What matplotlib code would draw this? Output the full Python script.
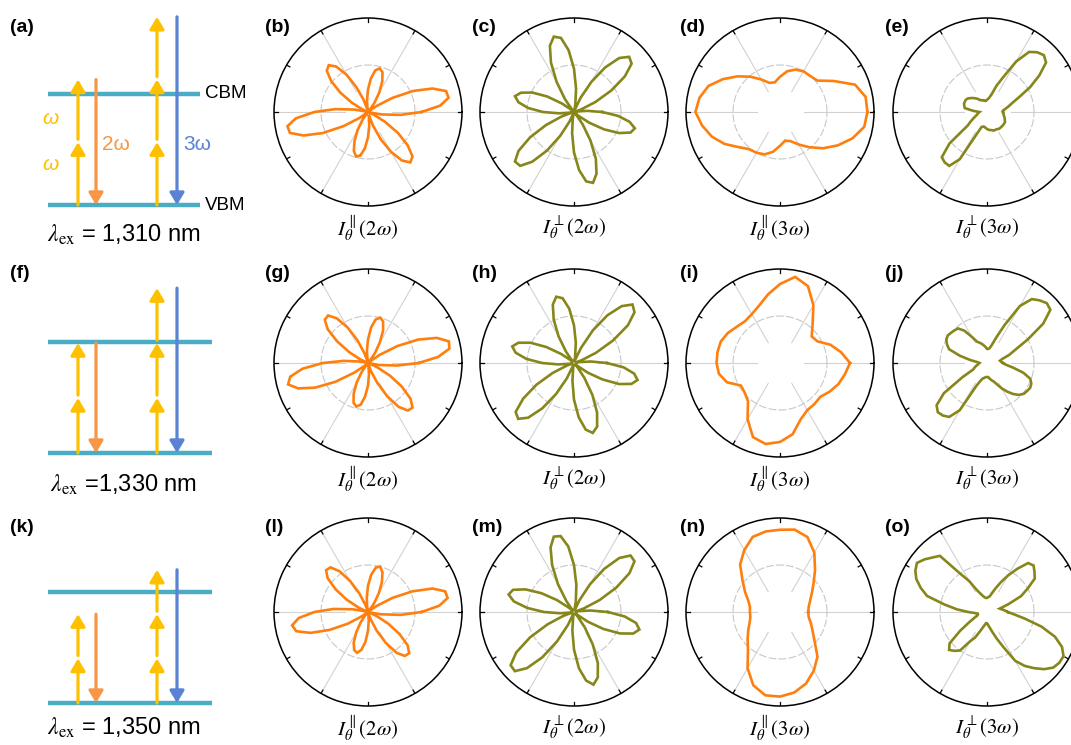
import numpy as np
import matplotlib
matplotlib.use("Agg")
import matplotlib.pyplot as plt

plt.rcParams['font.family'] = ['Liberation Sans', 'DejaVu Sans']
plt.rcParams['mathtext.fontset'] = 'stix'

# ---------------- data ----------------
# polar intensity curves, radii sampled uniformly over 0..360 deg (0 = east, CCW)
b_par2w = [.57,.77,.87,.86,.73,.53,.30,.11,.01,.00,.03,.12,
           .24,.36,.45,.48,.45,.36,.24,.12,.03,.03,.14,.29,
           .46,.59,.65,.62,.51,.36,.20,.07,.01,.02,.15,.35,
           .57,.77,.87,.86,.73,.53,.30,.11,.01,.00,.02,.10,
           .22,.34,.44,.49,.47,.39,.27,.15,.05,.03,.15,.32,
           .49,.63,.70,.67,.55,.39,.21,.07,.01,.02,.15,.35]
c_perp2w = [.30,.14,.03,.01,.08,.25,.46,.66,.80,.83,.75,.58,
            .37,.17,.03,.01,.08,.25,.46,.66,.80,.83,.75,.58,
            .37,.17,.03,.01,.04,.16,.33,.49,.60,.65,.60,.49,
            .33,.16,.04,.02,.14,.33,.54,.72,.82,.81,.69,.50,
            .29,.11,.01,.01,.08,.23,.43,.62,.75,.78,.70,.55,
            .35,.16,.03,.01,.07,.20,.37,.53,.64,.67,.60,.47]
d_par3w = [.93,.925,.85,.66,.52,.50,
           .50,.48,.44,.375,.32,.33,
           .40,.49,.59,.70,.81,.87,
           .90,.84,.77,.68,.58,.515,
           .50,.48,.43,.36,.31,.33,
           .40,.49,.60,.71,.82,.91]
e_perp3w = [.17,.17,.20,.24,.29,.38,.53,.68,.82,.855,.83,.78,
            .62,.41,.30,.20,.16,.14,.13,.12,.12,.13,.13,.14,
            .145,.17,.19,.21,.23,.25,.26,.26,.26,.25,.24,.15,
            .08,.09,.10,.11,.13,.16,.20,.25,.52,.68,.70,.70,
            .58,.26,.17,.16,.16,.17,.18,.19,.195,.20,.21,.21,
            .21,.22,.22,.22,.22,.22,.22,.21,.20,.19,.18,.175]
g_par2w = [.54,.75,.88,.89,.78,.59,.36,.15,.02,.01,.03,.13,
           .25,.38,.47,.50,.47,.38,.25,.13,.03,.02,.11,.27,
           .44,.58,.66,.65,.56,.40,.23,.09,.01,.01,.09,.26,
           .48,.70,.84,.88,.79,.62,.40,.18,.04,.01,.03,.12,
           .24,.36,.45,.48,.45,.36,.24,.12,.03,.01,.09,.23,
           .41,.57,.66,.67,.59,.44,.27,.11,.02,.01,.12,.31]
h_perp2w = [.35,.18,.05,.01,.09,.26,.48,.70,.84,.88,.79,.62,
            .40,.18,.04,.01,.07,.22,.40,.58,.70,.73,.66,.51,
            .33,.15,.03,.01,.05,.17,.34,.51,.63,.68,.63,.51,
            .34,.17,.05,.01,.08,.25,.46,.66,.81,.84,.76,.59,
            .38,.18,.03,.01,.05,.19,.39,.58,.72,.77,.72,.58,
            .39,.19,.05,.01,.05,.18,.35,.53,.65,.70,.65,.53]
i_par3w = [.745,.66,.57,.46,.44,.54,
           .71,.87,.93,.84,.74,.65,
           .60,.58,.60,.64,.67,.675,
           .675,.66,.60,.48,.49,.53,
           .69,.84,.875,.84,.77,.64,
           .58,.57,.56,.61,.66,.70]
j_perp3w = [.17,.15,.14,.17,.25,.33,.50,.73,.88,.90,.87,.83,
            .70,.45,.29,.20,.16,.15,.15,.17,.19,.21,.23,.25,
            .32,.42,.48,.49,.50,.51,.50,.47,.43,.30,.18,.10,
            .08,.09,.10,.12,.14,.16,.30,.56,.70,.74,.73,.70,
            .58,.27,.20,.17,.16,.15,.15,.15,.17,.19,.21,.25,
            .31,.37,.43,.48,.51,.52,.53,.52,.49,.40,.28,.20]
l_par2w = [.57,.76,.86,.85,.73,.52,.30,.11,.01,.00,.02,.11,
           .23,.35,.45,.50,.48,.40,.28,.15,.05,.01,.08,.22,
           .38,.53,.62,.63,.56,.42,.26,.11,.02,.03,.17,.37,
           .57,.74,.82,.79,.65,.45,.25,.08,.01,.01,.05,.14,
           .25,.36,.43,.45,.41,.32,.20,.09,.02,.01,.08,.22,
           .38,.53,.61,.62,.55,.41,.25,.10,.02,.02,.14,.35]
m_perp2w = [.36,.18,.05,.01,.11,.30,.52,.72,.84,.85,.75,.56,
            .34,.14,.02,.01,.11,.29,.50,.70,.82,.83,.73,.55,
            .34,.14,.02,.01,.07,.22,.40,.57,.69,.72,.65,.50,
            .32,.15,.03,.01,.12,.31,.54,.75,.88,.89,.78,.59,
            .36,.15,.02,.01,.05,.20,.40,.60,.74,.80,.74,.60,
            .40,.20,.05,.01,.05,.18,.36,.54,.67,.72,.67,.54]
n_par3w = [.30,.31,.34,.39,.465,.58,
           .73,.85,.89,.875,.87,.85,
           .76,.66,.52,.43,.36,.325,
           .32,.32,.345,.39,.45,.53,
           .69,.83,.90,.90,.87,.81,
           .72,.62,.48,.40,.35,.31]
o_perp3w = [.22,.19,.16,.14,.24,.40,.50,.62,.66,.70,.68,.56,
            .45,.35,.27,.21,.17,.16,.15,.15,.16,.18,.21,.26,
            .38,.50,.78,.82,.87,.91,.88,.83,.75,.66,.46,.32,
            .20,.13,.10,.10,.11,.15,.22,.35,.52,.57,.54,.50,
            .36,.30,.22,.17,.14,.12,.12,.14,.17,.22,.30,.41,
            .60,.70,.78,.86,.92,.94,.94,.88,.77,.60,.41,.29]

curves = [[b_par2w, c_perp2w, d_par3w, e_perp3w],
          [g_par2w, h_perp2w, i_par3w, j_perp3w],
          [l_par2w, m_perp2w, n_par3w, o_perp3w]]
panel_letters = [['(b)', '(c)', '(d)', '(e)'],
                 ['(g)', '(h)', '(i)', '(j)'],
                 ['(l)', '(m)', '(n)', '(o)']]
diag_letters = ['(a)', '(f)', '(k)']
col_labels = [r'$I_{\theta}^{\parallel}(2\omega)$', r'$I_{\theta}^{\perp}(2\omega)$',
              r'$I_{\theta}^{\parallel}(3\omega)$', r'$I_{\theta}^{\perp}(3\omega)$']
wavelengths = ['1,310', '1,330', '1,350']
lam_eq = [' = ', ' =', ' = ']
# photon energy of the fundamental in units of the band gap (schematic)
omega_frac = [0.565, 0.495, 0.40]

# ---------------- style / layout ----------------
W, H = 1071, 745
ORANGE = '#FF7F0E'
OLIVE = '#86861A'
curve_colors = [ORANGE, OLIVE, ORANGE, OLIVE]
TEAL = '#4BACC6'
YEL = '#FFC000'
ORA2 = '#F79646'
BLUE = '#5B83D3'

col_x = [368, 574, 780, 987]
row_y = [112, 363, 612]
R = 94
letter_x = [265, 472, 680, 885]
letter_y = [27, 274, 527]
label_dy = 116

vbm_y = [205, 453, 703]
gap_px = 111
level_x0 = 48
level_x1 = [200, 212, 212]
lam_y = [235, 485, 728]

fig = plt.figure(figsize=(W / 100, H / 100), dpi=100)
ov = fig.add_axes([0, 0, 1, 1])
ov.set_xlim(0, W)
ov.set_ylim(H, 0)
ov.axis('off')


def rect_px(x0, y0, w, h):
    return [x0 / W, 1 - (y0 + h) / H, w / W, h / H]


# ---------------- polar panels ----------------
circ = np.linspace(0, 2 * np.pi, 361)
for i in range(3):
    for j in range(4):
        cx, cy = col_x[j], row_y[i]
        ax = fig.add_axes(rect_px(cx - R, cy - R, 2 * R, 2 * R), projection='polar')
        ax.set_facecolor('none')
        ax.set_ylim(0, 1)
        ax.set_yticks([])
        ax.set_xticks([])
        ax.grid(False)
        ax.spines['polar'].set_color('black')
        ax.spines['polar'].set_linewidth(1.1)
        for a in range(0, 360, 60):
            ax.plot([np.deg2rad(a)] * 2, [0.25, 1.0], color='#d2d2d2', lw=0.8, zorder=1)
        for a in range(0, 360, 30):
            ax.plot([np.deg2rad(a)] * 2, [0.96, 1.0], color='black', lw=0.9, zorder=2)
        ax.plot(circ, np.full_like(circ, 0.5), color='#c8c8c8', lw=0.8,
                ls=(0, (7, 2)), zorder=1)
        r = np.asarray(curves[i][j], dtype=float)
        th = np.deg2rad(np.arange(len(r)) * 360.0 / len(r))
        ax.plot(np.append(th, th[0]), np.append(r, r[0]), color=curve_colors[j],
                lw=1.9, zorder=3, solid_joinstyle='miter')
        ov.text(cx, cy + label_dy, col_labels[j], ha='center', va='center', fontsize=15)
        ov.text(letter_x[j], letter_y[i], panel_letters[i][j], ha='left', va='center',
                fontsize=14, fontweight='bold')

# ---------------- energy-level schematics ----------------
x_y1, x_o, x_y2, x_b = 78, 96, 157, 177


def arrow(x, y0, y1, color):
    ov.annotate('', xy=(x, y1), xytext=(x, y0),
                arrowprops=dict(arrowstyle='-|>,head_length=0.4,head_width=0.24',
                                mutation_scale=18, color=color, lw=2.3,
                                shrinkA=0, shrinkB=0), zorder=4)


for i in range(3):
    base = vbm_y[i]
    w = omega_frac[i] * gap_px
    ov.plot([level_x0, level_x1[i]], [base, base], color=TEAL, lw=3.2, zorder=2,
            solid_capstyle='butt')
    ov.plot([level_x0, level_x1[i]], [base - gap_px, base - gap_px], color=TEAL, lw=3.2,
            zorder=2, solid_capstyle='butt')
    # two-photon path
    for k in range(2):
        arrow(x_y1, base - k * w - (3 if k else 0), base - (k + 1) * w, YEL)
    arrow(x_o, base - 2 * w, base, ORA2)
    # three-photon path
    for k in range(3):
        arrow(x_y2, base - k * w - (3 if k else 0), base - (k + 1) * w, YEL)
    arrow(x_b, base - 3 * w, base, BLUE)
    ov.text(10, letter_y[i], diag_letters[i], ha='left', va='center', fontsize=14,
            fontweight='bold')
    ov.text(124, lam_y[i], r'$\lambda_{\mathrm{ex}}$' + lam_eq[i] + wavelengths[i] + ' nm',
            ha='center', va='center', fontsize=17)

ov.text(205, vbm_y[0] - gap_px, 'CBM', ha='left', va='center', fontsize=13.5)
ov.text(205, vbm_y[0], 'VBM', ha='left', va='center', fontsize=13.5)
ov.text(50, 118, 'ω', color=YEL, ha='center', va='center', fontsize=15, style='italic')
ov.text(50, 165, 'ω', color=YEL, ha='center', va='center', fontsize=15, style='italic')
ov.text(102, 145, '2ω', color=ORA2, ha='left', va='center', fontsize=15)
ov.text(183, 145, '3ω', color=BLUE, ha='left', va='center', fontsize=15)

fig.savefig('out.png', dpi=100)
